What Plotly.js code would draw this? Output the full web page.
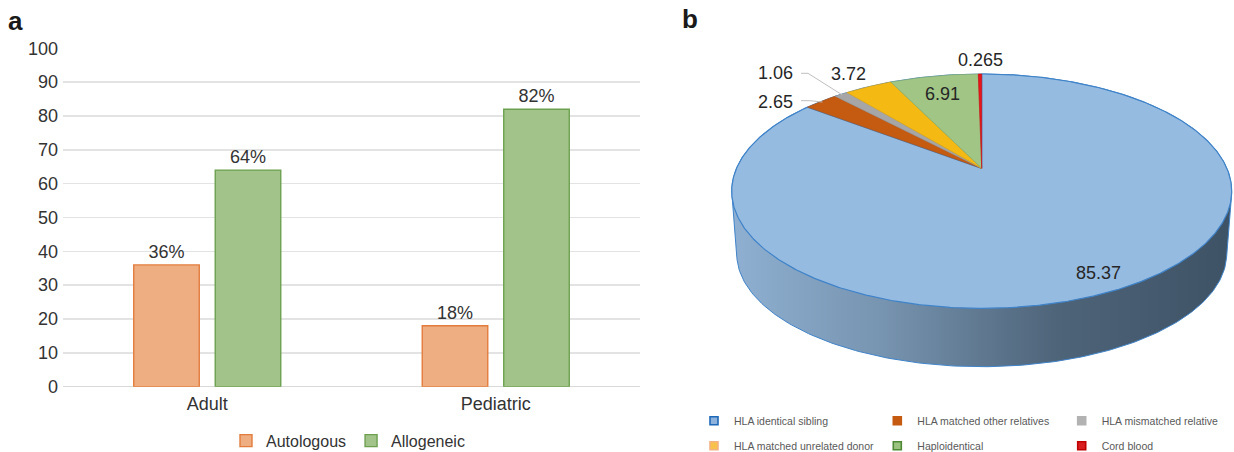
<!DOCTYPE html>
<html>
<head>
<meta charset="utf-8">
<script src="https://cdn.plot.ly/plotly-3.0.1.min.js"></script>
<style>
  html, body { margin: 0; padding: 0; background: #ffffff; }
  #chart { width: 1234px; height: 452px; }
</style>
</head>
<body>
<div id="chart"></div>
<script>
// ---- Panel a: transplant type by age group (%) ----
const groups = ['Adult', 'Pediatric'];
const autologous = [36, 18];
const allogeneic = [64, 82];
const yTicks = [0, 10, 20, 30, 40, 50, 60, 70, 80, 90, 100];

// ---- Panel b: donor source (%) ----
const donorTypes = [
  'HLA identical sibling',
  'HLA matched other relatives',
  'HLA mismatched relative',
  'HLA matched unrelated donor',
  'Haploidentical',
  'Cord blood'
];
const donorShares = [85.37, 2.65, 1.06, 3.72, 6.91, 0.265];

// ---- styling ----
const FONT = '"Liberation Sans", Arial, Helvetica, sans-serif';
const W = 1234, H = 452;
const sliceFill = ['#96BBE1', '#C55A11', '#A6A6A6', '#F5B914', '#A0C585', '#E8141B'];
const sliceLine = ['#3F83C9', '#B0500F', '#999999', '#E0A810', '#86AE6C', '#D01010'];
const legendFill = ['#8DB3DD', '#C55A11', '#B2B2B2', '#F8C24A', '#9CC480', '#D81E1E'];
const legendLine = ['#1E68B8', '#C55A11', '#B2B2B2', '#F4B183', '#4E8A35', '#C00000'];
// three legend columns, filled row by row
const legendColumn = ['legend2', 'legend3', 'legend4', 'legend2', 'legend3', 'legend4'];

// 3-D disc geometry in page pixels (top face + bottom rim)
const disc = { cx: 981.7, cy: 191.2, a: 250, b: 117.2, k: 0.195,
               bcx: 981.7, bcy: 253.7, ba: 245, bb: 113 };
const discS = Math.sqrt(1 - disc.k * disc.k);

// point on the tilted top face: angle clockwise from 12 o'clock, radius 0..1
function topPoint(theta, r) {
  const x = r * Math.sin(theta), y = r * Math.cos(theta);
  const d = 1 + disc.k * y;
  return [disc.cx + disc.a * discS * x / d, disc.cy - disc.b * (y + disc.k) / d];
}

function hull(points) {
  const p = points.slice().sort((m, n) => m[0] - n[0] || m[1] - n[1]);
  const cross = (o, a, b) => (a[0] - o[0]) * (b[1] - o[1]) - (a[1] - o[1]) * (b[0] - o[0]);
  const lower = [], upper = [];
  for (const q of p) {
    while (lower.length >= 2 && cross(lower[lower.length - 2], lower[lower.length - 1], q) <= 0) lower.pop();
    lower.push(q);
  }
  for (let i = p.length - 1; i >= 0; i--) {
    const q = p[i];
    while (upper.length >= 2 && cross(upper[upper.length - 2], upper[upper.length - 1], q) <= 0) upper.pop();
    upper.push(q);
  }
  upper.pop(); lower.pop();
  return lower.concat(upper);
}

const traces = [];

// bars
traces.push({
  type: 'bar', name: 'Autologous', x: groups, y: autologous,
  texttemplate: '%{y}%', textposition: 'outside', cliponaxis: false,
  textfont: { family: FONT, size: 18, color: '#333333' },
  marker: { color: '#EFAD82', line: { color: '#E27C3C', width: 1.4 } },
  hoverinfo: 'skip'
});
traces.push({
  type: 'bar', name: 'Allogeneic', x: groups, y: allogeneic,
  texttemplate: '%{y}%', textposition: 'outside', cliponaxis: false,
  textfont: { family: FONT, size: 18, color: '#333333' },
  marker: { color: '#A2C48B', line: { color: '#6CA04F', width: 1.4 } },
  hoverinfo: 'skip'
});

// disc side wall: hull of top rim and bottom rim, the top face covers the rest
const rim = [];
for (let i = 0; i < 360; i++) {
  const t = i * Math.PI / 180;
  rim.push([disc.cx + disc.a * Math.cos(t), disc.cy + disc.b * Math.sin(t)]);
  rim.push([disc.bcx + disc.ba * Math.cos(t), disc.bcy + disc.bb * Math.sin(t)]);
}
const wall = hull(rim);
wall.push(wall[0]);
traces.push({
  type: 'scatter', mode: 'lines', xaxis: 'x2', yaxis: 'y2',
  x: wall.map(p => p[0]), y: wall.map(p => p[1]),
  fill: 'toself',
  fillgradient: { type: 'horizontal',
    colorscale: [[0, '#8FB0D2'], [0.3, '#7794B0'], [0.65, '#4E6479'], [1, '#3E5265']] },
  line: { color: '#3F83C9', width: 1 },
  hoverinfo: 'skip', showlegend: false
});

// top-face slices, clockwise from 12 o'clock
const total = donorShares.reduce((s, v) => s + v, 0);
const midAngle = [];
let acc = 0;
donorShares.forEach((v, i) => {
  const t0 = acc / total * 2 * Math.PI;
  acc += v;
  const t1 = acc / total * 2 * Math.PI;
  midAngle.push((t0 + t1) / 2);
  const n = Math.max(2, Math.ceil((t1 - t0) / (Math.PI / 360)));
  const pts = [topPoint(0, 0)];
  for (let j = 0; j <= n; j++) pts.push(topPoint(t0 + (t1 - t0) * j / n, 1));
  pts.push(topPoint(0, 0));
  traces.push({
    type: 'scatter', mode: 'lines', xaxis: 'x2', yaxis: 'y2',
    x: pts.map(p => p[0]), y: pts.map(p => p[1]),
    fill: 'toself', fillcolor: sliceFill[i],
    line: { color: sliceLine[i], width: i === 0 ? 1.2 : 0.6 },
    hoverinfo: 'skip', showlegend: false
  });
});

// leader lines for the two narrow slices on the left
const leaders = [
  { slice: 1, from: [801, 100.7], elbow: [810, 100.7] },
  { slice: 2, from: [801, 73.3], elbow: [808, 73.3] }
];
leaders.forEach(l => {
  const end = topPoint(midAngle[l.slice], 0.99);
  traces.push({
    type: 'scatter', mode: 'lines', xaxis: 'x2', yaxis: 'y2',
    x: [l.from[0], l.elbow[0], end[0]], y: [l.from[1], l.elbow[1], end[1]],
    line: { color: '#BFBFBF', width: 1 }, hoverinfo: 'skip', showlegend: false
  });
});

// legend entries for the donor sources
donorTypes.forEach((name, i) => {
  traces.push({
    type: 'scatter', mode: 'markers', xaxis: 'x2', yaxis: 'y2',
    x: [null], y: [null], name: name,
    legend: legendColumn[i], legendgroup: 'donor' + i,
    marker: { symbol: 'square', size: 8, color: legendFill[i],
              line: { color: legendLine[i], width: 1.6 } },
    hoverinfo: 'skip'
  });
});

// slice value labels
const labelPos = [[1098, 272.7], [776, 101.7], [776, 72.7], [849, 74], [943, 94.3], [980.7, 60]];
const annotations = donorShares.map((v, i) => ({
  xref: 'x2', yref: 'y2', x: labelPos[i][0], y: labelPos[i][1],
  text: String(v), showarrow: false,
  font: { family: FONT, size: 18, color: '#262626' }
}));
annotations.push({
  xref: 'paper', yref: 'paper', x: 6 / W, xanchor: 'left', y: 1 - 21 / H, yanchor: 'middle',
  text: '<b>a</b>', showarrow: false, font: { family: FONT, size: 26, color: '#1A1A1A' }
});
annotations.push({
  xref: 'paper', yref: 'paper', x: 680 / W, xanchor: 'left', y: 1 - 19 / H, yanchor: 'middle',
  text: '<b>b</b>', showarrow: false, font: { family: FONT, size: 26, color: '#1A1A1A' }
});

const donorLegend = (x) => ({
  orientation: 'v', x: x, xanchor: 'left', y: 1 - 433.2 / H, yanchor: 'middle',
  bgcolor: 'rgba(0,0,0,0)', borderwidth: 0, tracegroupgap: 6,
  font: { family: FONT, size: 10.5, color: '#595959' }
});

const layout = {
  width: W, height: H,
  margin: { l: 0, r: 0, t: 0, b: 0, autoexpand: false },
  paper_bgcolor: '#ffffff', plot_bgcolor: 'rgba(0,0,0,0)',
  font: { family: FONT, color: '#333333' },
  barmode: 'group', bargap: 0.435, bargroupgap: 0.196,
  xaxis: {
    domain: [63 / W, 640 / W], type: 'category',
    showgrid: false, zeroline: false, showline: false, ticks: '',
    ticklabelstandoff: 4,
    tickfont: { family: FONT, size: 18, color: '#333333' }, fixedrange: true
  },
  yaxis: {
    domain: [1 - 386.7 / H, 1 - 48.3 / H], range: [0, 100],
    tickvals: yTicks, ticks: '', showline: false, ticklabelstandoff: 4,
    gridcolor: '#E3E3E3', gridwidth: 1.5,
    zeroline: true, zerolinecolor: '#D9D9D9', zerolinewidth: 1.5,
    tickfont: { family: FONT, size: 18, color: '#333333' }, fixedrange: true
  },
  xaxis2: { domain: [660 / W, 1], range: [660, W], visible: false, fixedrange: true },
  yaxis2: { domain: [0, 1], range: [H, 0], visible: false, fixedrange: true, anchor: 'x2' },
  legend: {
    orientation: 'h', x: 348 / W, xanchor: 'center', y: 1 - 440.7 / H, yanchor: 'middle',
    bgcolor: 'rgba(0,0,0,0)', font: { family: FONT, size: 16, color: '#333333' }
  },
  legend2: donorLegend(694 / W),
  legend3: donorLegend(877.3 / W),
  legend4: donorLegend(1061.7 / W),
  annotations: annotations,
  showlegend: true
};

Plotly.newPlot('chart', traces, layout, { displayModeBar: false, staticPlot: true });
</script>
</body>
</html>
